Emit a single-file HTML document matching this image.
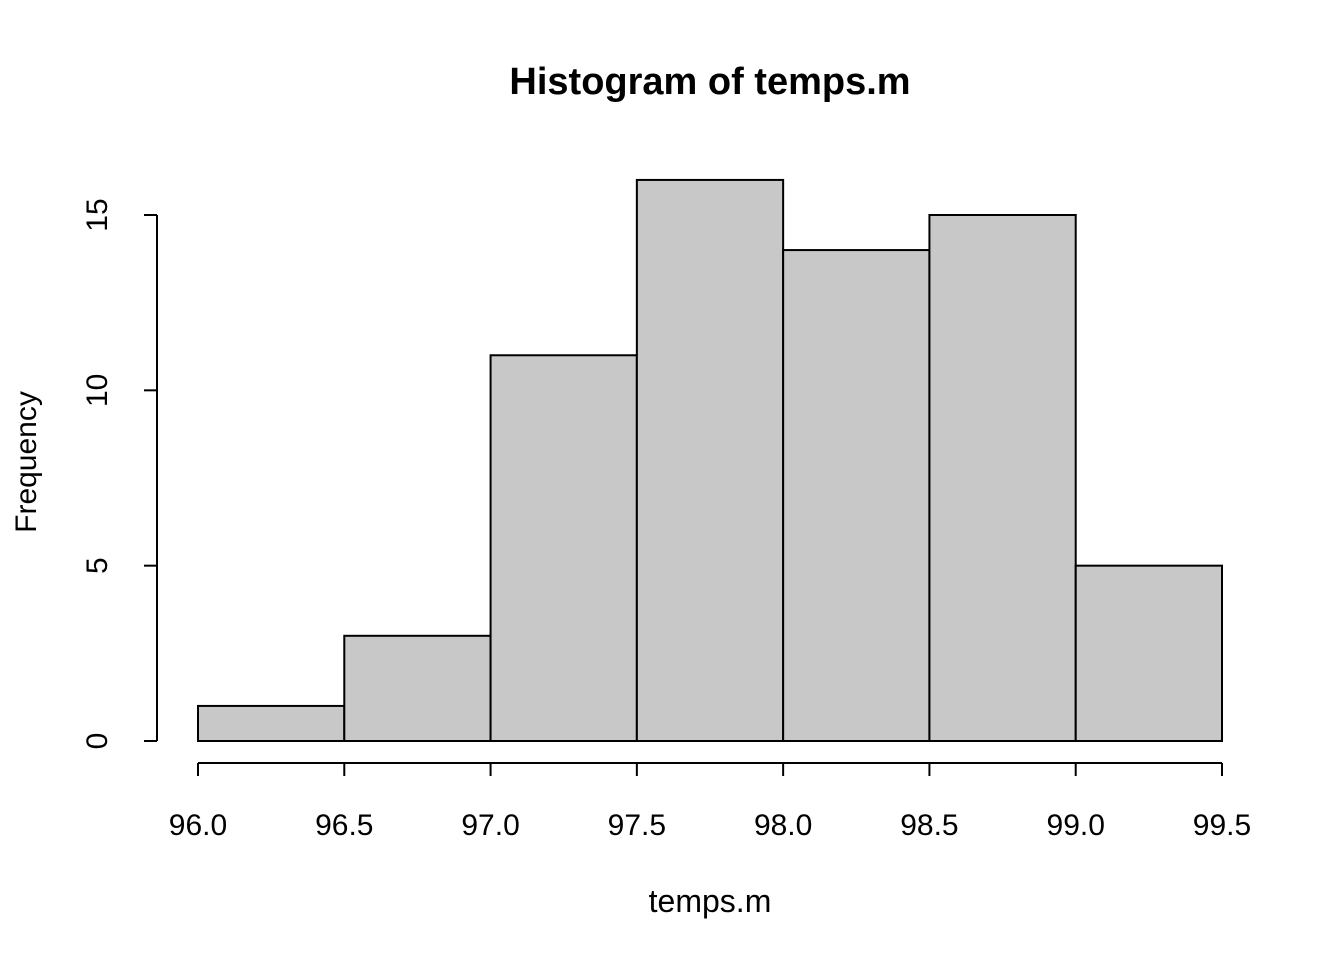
<!DOCTYPE html>
<html><head><meta charset="utf-8"><style>
body{margin:0;background:#fff}
svg{display:block;font-family:"Liberation Sans",Arial,sans-serif}
</style></head><body>
<svg id="chart" width="1344" height="960">
<text x="710" y="94" text-anchor="middle" font-size="38" font-weight="bold">Histogram of temps.m</text>
<text x="710" y="912" text-anchor="middle" font-size="32">temps.m</text>
<text transform="translate(36,462) rotate(-90)" text-anchor="middle" font-size="30">Frequency</text>
<g id="bars"></g><g id="xaxis"></g><g id="yaxis"></g>
</svg>
<script>
const breaks=[96.0,96.5,97.0,97.5,98.0,98.5,99.0,99.5];
const counts=[1,3,11,16,14,15,5];
const xTicks=["96.0","96.5","97.0","97.5","98.0","98.5","99.0","99.5"];
const yTicks=[0,5,10,15];
const NS="http://www.w3.org/2000/svg";
function X(v){return 198+(v-96)*(1222-198)/3.5;}
function Y(v){return 741-v*(741-215)/15;}
function mk(t,a,p){const e=document.createElementNS(NS,t);for(const k in a)e.setAttribute(k,a[k]);p.appendChild(e);return e;}
const bars=document.getElementById('bars');
counts.forEach((c,i)=>{
 const r=mk('rect',{x:X(breaks[i]),y:Y(c),width:X(breaks[i+1])-X(breaks[i]),height:Y(0)-Y(c),fill:'#c8c8c8',stroke:'#000','stroke-width':2},bars);
 
 
});
const xa=document.getElementById('xaxis');


mk('line',{x1:X(breaks[0]),x2:X(breaks[breaks.length-1]),y1:763,y2:763,stroke:'#000','stroke-width':2},xa);
xTicks.forEach(t=>{const v=parseFloat(t);
 mk('line',{x1:X(v),x2:X(v),y1:763,y2:776,stroke:'#000','stroke-width':2},xa);
 const e=mk('text',{x:X(v),y:835,'text-anchor':'middle','font-size':30},xa);e.textContent=t;
 
 
});
const ya=document.getElementById('yaxis');


mk('line',{x1:157,x2:157,y1:Y(0),y2:Y(yTicks[yTicks.length-1]),stroke:'#000','stroke-width':2},ya);
yTicks.forEach(v=>{
 mk('line',{x1:144,x2:157,y1:Y(v),y2:Y(v),stroke:'#000','stroke-width':2},ya);
 const e=mk('text',{transform:`translate(107,${Y(v)}) rotate(-90)`,'text-anchor':'middle','font-size':30},ya);e.textContent=v;
 
 
});
</script>
</body></html>
